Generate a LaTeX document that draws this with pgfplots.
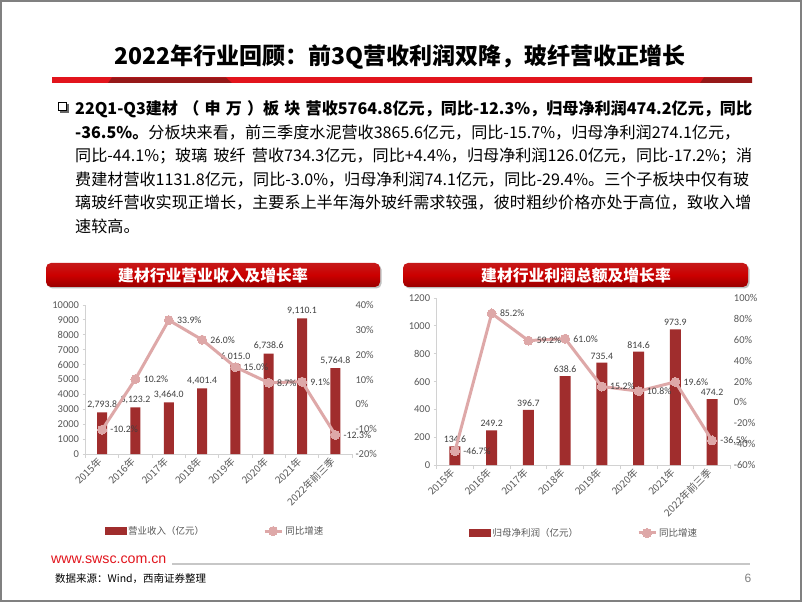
\documentclass[border=0pt]{standalone}
\usepackage{fontspec}
\setmainfont{Noto Sans CJK SC}
\newfontfamily\numfont{Carlito}
\newfontfamily\arialfont{Liberation Sans}
\usepackage{pgfplots}
\pgfplotsset{compat=1.18}
\usetikzlibrary{shadings}
\XeTeXlinebreaklocale "zh"
\XeTeXlinebreakskip=0pt plus 3pt minus 0.3pt

\definecolor{barred}{RGB}{160,45,45}
\definecolor{linepink}{RGB}{222,168,168}
\definecolor{titlered}{RGB}{226,20,28}
\definecolor{darkred}{RGB}{150,24,24}
\definecolor{txtgrey}{RGB}{89,89,89}
\definecolor{lblgrey}{RGB}{64,64,64}
\definecolor{axisgrey}{RGB}{210,210,210}
\definecolor{framegrey}{RGB}{128,128,128}

\pgfplotsset{
  /pgf/number format/assume math mode=true,
  mybase/.style={scale only axis, anchor=south west, clip=false, xmin=-0.5, xmax=7.5,
    tick align=outside, scaled y ticks=false,
    axis line style={draw=axisgrey, line width=0.8pt},
    tick style={draw=axisgrey, line width=0.8pt},
    yticklabel style={font=\numfont\fontsize{10.5}{12}\selectfont, text=txtgrey},
    /pgf/number format/1000 sep={}},
  barax/.style={mybase, axis y line*=left, axis x line*=bottom, ybar,
    xtick={0,...,7},
    xticklabels={2015年,2016年,2017年,2018年,2019年,2020年,2021年,2022年前三季},
    major x tick style={draw=none},
    minor xtick={-0.5,0.5,...,7.5}, minor tick length=4pt, major tick length=3pt,
    x tick label style={rotate=45, anchor=east, font=\fontsize{10}{12}\selectfont, text=txtgrey},
    nodes near coords={\pgfmathprintnumber[fixed,fixed zerofill,precision=1,1000 sep={,}]{\pgfplotspointmeta}},
    every node near coord/.append style={font=\numfont\fontsize{9.8}{11}\selectfont, text=lblgrey}},
  lineax/.style={mybase, hide x axis, axis y line*=right, major tick length=0pt,
    axis line style={draw=none},
    yticklabel={\pgfmathprintnumber{\tick}\%},
    legend style={draw=none, fill=none, legend columns=2,
      font=\fontsize{9.5}{11}\selectfont, text=txtgrey,
      /tikz/every even column/.append style={column sep=57pt}},
    legend cell align=left},
  pinkline/.style={linepink, line width=3pt, mark=*, mark size=4.5pt,
    mark options={fill=linepink, draw=linepink, line width=0pt},
    nodes near coords={\pgfmathprintnumber[fixed,fixed zerofill,precision=1]{\pgfplotspointmeta}\%},
    every node near coord/.append style={anchor=west, xshift=5pt,
      font=\numfont\fontsize{9.8}{11}\selectfont, text=lblgrey}},
  pinklegend/.style={legend image code/.code={%
    \draw[linepink, line width=3pt] (0pt,0pt)--(25pt,0pt);
    \fill[linepink] (12.5pt,0pt) circle (4pt);}},
  barlegend/.style={legend image code/.code={%
    \fill[barred] (0pt,-3.5pt) rectangle (21pt,3.5pt);}}
}

\begin{document}
\begin{tikzpicture}[x=1pt,y=1pt]
% background and frame
\fill[white] (0,0) rectangle (802,602);
\draw[framegrey, line width=1.5pt] (1,1) rectangle (801,601);

% title
\node[anchor=center, inner sep=0, font=\bfseries\fontsize{23}{26}\selectfont] at (400,545)
  {2022年行业回顾：前3Q营收利润双降，玻纤营收正增长};
% red underline
\fill[titlered] (52,519) rectangle (752,524.5);
\fill[darkred] (108,519) -- (112,524.5) -- (226,524.5) -- (232,519) -- cycle;
\fill[darkred] (700,519) -- (704,524.5) -- (752,524.5) -- (752,519) -- cycle;

% bullet
\fill[black!60] (59.5,489) rectangle (68.5,498);
\fill[white] (58,491) rectangle (66,499);
\draw[black, line width=1pt] (58,491) rectangle (66,499);

% paragraph
\begin{scope}[every node/.style={anchor=base west, inner sep=0, font=\fontsize{16.1}{20}\selectfont}]
\node at (75,487.5) {\makebox[677pt][s]{\bfseries 22Q1-Q3建材\hfil（\hfil 申\hfil 万\hfil ）板\hfil 块\hfil 营收5764.8亿元，同比-12.3\%，归母净利润474.2亿元，同比}};
\node at (75,463.9) {\makebox[677pt][s]{{\bfseries -36.5\%。}分板块来看，前三季度水泥营收3865.6亿元，同比-15.7\%，归母净利润274.1亿元，}};
\node at (75,440.3) {\makebox[677pt][s]{同比-44.1\%；玻璃 玻纤 营收734.3亿元，同比+4.4\%，归母净利润126.0亿元，同比-17.2\%；消}};
\node at (75,416.7) {\makebox[677pt][s]{费建材营收1131.8亿元，同比-3.0\%，归母净利润74.1亿元，同比-29.4\%。三个子板块中仅有玻}};
\node at (75,393.1) {\makebox[677pt][s]{璃玻纤营收实现正增长，主要系上半年海外玻纤需求较强，彼时粗纱价格亦处于高位，致收入增}};
\node at (75,369.5) {速较高。};
\end{scope}

% chart banners
\fill[black!25, rounded corners=5pt] (47.5,313.5) rectangle (381.5,337.5);
\shade[top color=red!75!black!90, bottom color=red!60!black, middle color=red!80!black, rounded corners=5pt] (46,315) rectangle (380,339);
\node[text=white, font=\bfseries\fontsize{15.8}{18}\selectfont] at (213,327) {建材行业营业收入及增长率};
\fill[black!25, rounded corners=5pt] (404.5,313.5) rectangle (749.5,337.5);
\shade[top color=red!75!black!90, bottom color=red!60!black, middle color=red!80!black, rounded corners=5pt] (403,315) rectangle (748,339);
\node[text=white, font=\bfseries\fontsize{15.8}{18}\selectfont] at (576,327) {建材行业利润总额及增长率};

% ---------- left chart ----------
\begin{axis}[barax, at={(85.5pt,148pt)}, width=266.5pt, height=149pt,
  ymin=0, ymax=10000, ytick={0,1000,...,10000}, bar width=10pt]
\addplot[fill=barred, draw=none] coordinates {(0,2793.8) (1,3123.2) (2,3464.0) (3,4401.4) (4,6015.0) (5,6738.6) (6,9110.1) (7,5764.8)};
\end{axis}
\begin{axis}[lineax, at={(85.5pt,148pt)}, width=266.5pt, height=149pt,
  ymin=-20, ymax=40, ytick={-20,-10,...,40},
  legend style={at={(axis description cs:0.486,-0.517)}, anchor=center}]
\addlegendimage{barlegend}
\addlegendentry{营业收入（亿元）}
\addplot[pinkline] coordinates {(0,-10.2) (1,10.2) (2,33.9) (3,26.0) (4,15.0) (5,8.7) (6,9.1) (7,-12.3)};
\addlegendentry{同比增速}
\end{axis}

% ---------- right chart ----------
\begin{axis}[barax, at={(436.6pt,137pt)}, width=293.8pt, height=167pt,
  ymin=0, ymax=1200, ytick={0,200,...,1200}, bar width=11pt]
\addplot[fill=barred, draw=none] coordinates {(0,134.6) (1,249.2) (2,396.7) (3,638.6) (4,735.4) (5,814.6) (6,973.9) (7,474.2)};
\end{axis}
\begin{axis}[lineax, at={(436.6pt,137pt)}, width=293.8pt, height=167pt,
  ymin=-60, ymax=100, ytick={-60,-40,...,100},
  legend style={at={(axis description cs:0.502,-0.407)}, anchor=center}]
\addlegendimage{barlegend}
\addlegendentry{归母净利润（亿元）}
\addplot[pinkline] coordinates {(0,-46.7) (1,85.2) (2,59.2) (3,61.0) (4,15.2) (5,10.8) (6,19.6) (7,-36.5)};
\addlegendentry{同比增速}
\end{axis}

% footer
\node[anchor=west, inner sep=0, text=titlered, font=\arialfont\fontsize{14.2}{16}\selectfont] at (51,42) {www.swsc.com.cn};
\draw[black!22, line width=1.2pt] (172,38) -- (750,38);
\node[anchor=west, inner sep=0, font=\fontsize{10.5}{12}\selectfont] at (55,23) {数据来源：Wind，西南证券整理};
\node[anchor=center, inner sep=0, text=black!50, font=\arialfont\fontsize{12}{14}\selectfont] at (748,24) {6};

\pgfresetboundingbox
\useasboundingbox (0,0) rectangle (802,602);
\end{tikzpicture}
\end{document}
